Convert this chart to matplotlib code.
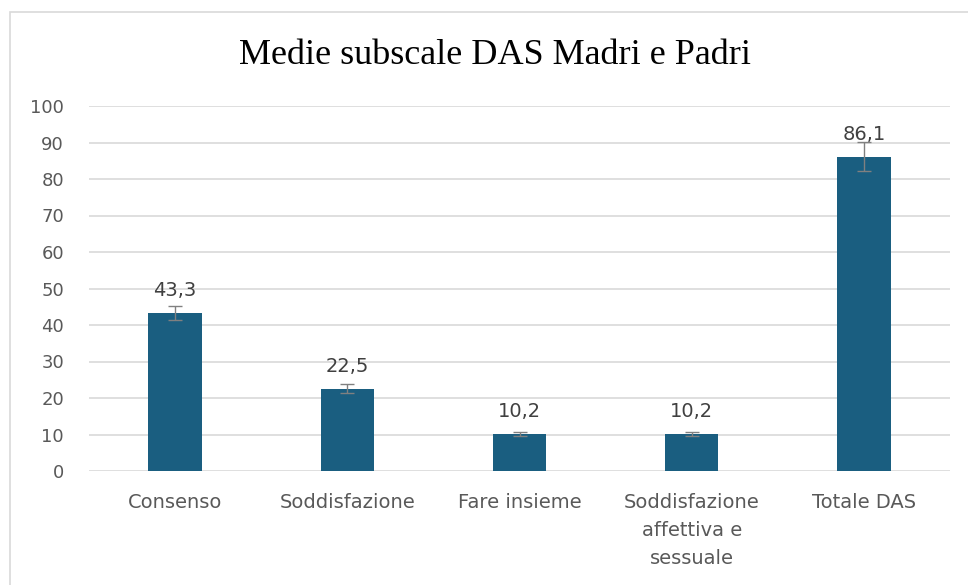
import matplotlib
matplotlib.use("Agg")
import matplotlib.pyplot as plt
from matplotlib.patches import Rectangle

categories = ["Consenso", "Soddisfazione", "Fare insieme",
              "Soddisfazione\naffettiva e\nsessuale", "Totale DAS"]
means = [43.3, 22.5, 10.2, 10.2, 86.1]
errors = [2.0, 1.2, 0.5, 0.5, 4.0]
value_labels = ["43,3", "22,5", "10,2", "10,2", "86,1"]
yticks = [0, 10, 20, 30, 40, 50, 60, 70, 80, 90, 100]

W, H = 968, 585
fig = plt.figure(figsize=(W / 100, H / 100), dpi=100)
fig.patch.set_facecolor("white")

# light chart-area frame
fig.patches.append(Rectangle((10 / W, -0.05), 1.2, 1 - 12 / H + 0.05,
                             transform=fig.transFigure, fill=False,
                             edgecolor="#d9d9d9", linewidth=1.2))

ax = fig.add_axes([89 / W, 1 - 471 / H, (950 - 89) / W, (471 - 106) / H])
x = list(range(len(categories)))
ax.bar(x, means, width=0.31, color="#1a5e80", zorder=3)
ax.errorbar(x, means, yerr=errors, fmt="none", ecolor="#808080",
            elinewidth=1, capsize=5, capthick=1, zorder=4)

for xi, m, lab in zip(x, means, value_labels):
    ax.annotate(lab, (xi, m), xytext=(0, 12), textcoords="offset points",
                ha="center", va="baseline", fontsize=14, color="#404040")

ax.set_xlim(-0.5, len(categories) - 0.5)
ax.set_ylim(0, 100)
ax.set_yticks(yticks)
ax.set_yticklabels([str(t) for t in yticks])
ax.set_xticks(x)
ax.set_xticklabels(categories, fontsize=14, color="#595959",
                   linespacing=1.6, va="top")
ax.tick_params(axis="y", length=0, pad=18, labelsize=13, labelcolor="#595959")
ax.tick_params(axis="x", length=0, pad=16)
ax.grid(axis="y", color="#d9d9d9", linewidth=1.2, zorder=0)
for s in ax.spines.values():
    s.set_visible(False)

fig.text(495 / W, 1 - 56 / H, "Medie subscale DAS Madri e Padri",
         ha="center", va="center", fontsize=26,
         family=["Liberation Serif", "DejaVu Serif"], color="black")

fig.savefig("out.png", dpi=100)
